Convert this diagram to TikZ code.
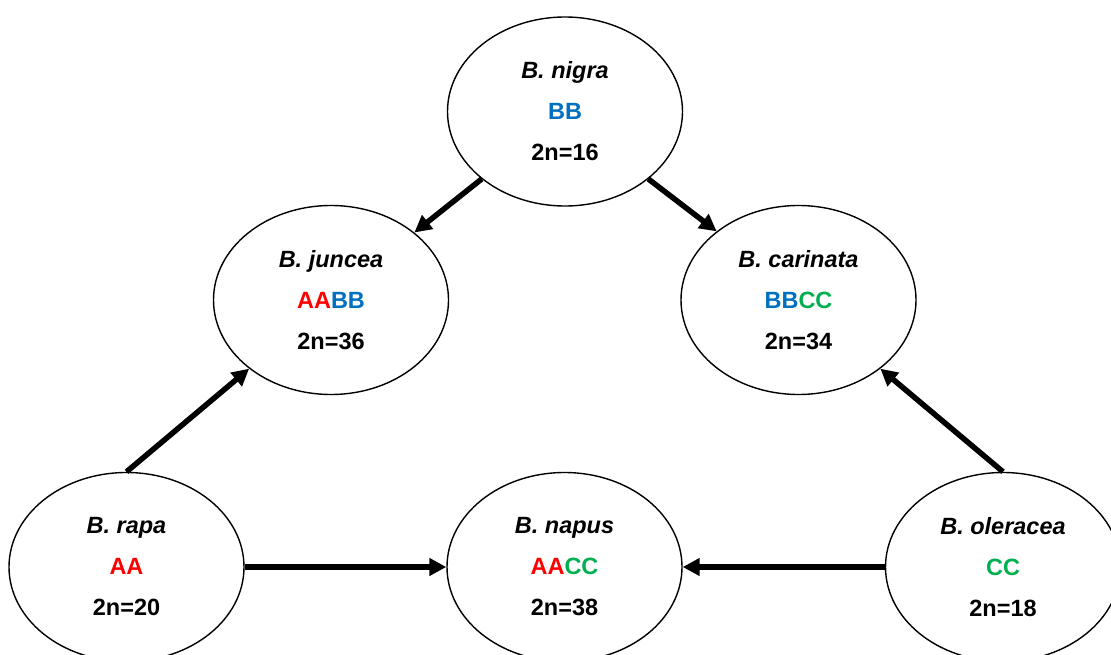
\documentclass[tikz,border=0pt]{standalone}
\usepackage{fontspec}
\setmainfont{Liberation Sans}
\usetikzlibrary{shapes.geometric,arrows.meta}
\definecolor{cred}{RGB}{255,0,0}
\definecolor{cblue}{RGB}{0,112,192}
\definecolor{cgreen}{RGB}{0,176,80}
\tikzset{
  species/.style={ellipse, draw=black, line width=1.4pt, fill=white,
    minimum width=235pt, minimum height=189pt, inner sep=0pt,
    align=center, font=\fontsize{23.5}{41}\selectfont\bfseries},
  link/.style={line width=5.5pt, -{Triangle[length=17pt,width=17pt]}}
}
\newcommand{\spname}[1]{\textit{#1}}
\begin{document}
\begin{tikzpicture}[x=1pt,y=-1pt]
\useasboundingbox (0,0) rectangle (1111,655);
\node[species] (nigra) at (565,111.5) {\spname{B. nigra}\\\textcolor{cblue}{BB}\\2n=16};
\node[species] (juncea) at (331,300) {\spname{B. juncea}\\\textcolor{cred}{AA}\textcolor{cblue}{BB}\\2n=36};
\node[species] (carinata) at (798.5,300) {\spname{B. carinata}\\\textcolor{cblue}{BB}\textcolor{cgreen}{CC}\\2n=34};
\node[species] (rapa) at (126.5,567) {\spname{B. rapa}\\\textcolor{cred}{AA}\\2n=20};
\node[species] (napus) at (564.5,567) {\spname{B. napus}\\\textcolor{cred}{AA}\textcolor{cgreen}{CC}\\2n=38};
\node[species] (oleracea) at (1003,567) {\spname{B. oleracea}\\\textcolor{cgreen}{CC}\\2n=18};
\draw[link] (nigra.219) -- (juncea.39);
\draw[link] (nigra.-39) -- (carinata.140);
\draw[link] (rapa.north) -- (juncea.220);
\draw[link] (oleracea.north) -- (carinata.-40);
\draw[link] (rapa.east) -- (napus.west);
\draw[link] (oleracea.west) -- (napus.east);
\end{tikzpicture}
\end{document}
